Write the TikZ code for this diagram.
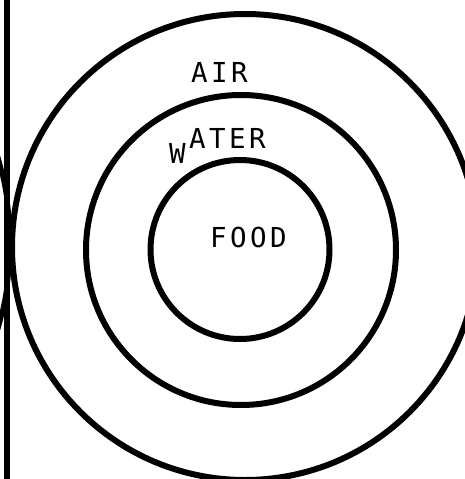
\documentclass[tikz,border=0pt]{standalone}
\usepackage{fontspec}
\newfontfamily\labelfont{DejaVu Sans Mono}
\newcommand\pitchbox[1]{\makebox[20pt]{#1}}
\begin{document}
\begin{tikzpicture}[x=1pt,y=-1pt,
  ring/.style={draw, line width=6pt, circle, inner sep=0pt},
  lbl/.style={font=\labelfont\fontsize{27.5}{30}\selectfont, anchor=base, inner sep=0pt}]
\useasboundingbox (0,0) rectangle (465,479);
\clip (0,0) rectangle (465,479);
\coordinate (top) at (6.5,0);
\coordinate (bottom) at (6.5,479);
\draw[line width=6pt] (top) -- (bottom);
\node[ring, minimum size=466pt] (air) at (245,247) {};
\node[ring, minimum size=310pt] (water) at (241,250) {};
\node[ring, minimum size=179pt] (food) at (240,249.5) {};
\node[draw, circle, line width=5pt, minimum size=618pt, inner sep=0pt] (neighbour) at (-299,243) {};
\node[lbl] (airlbl) at (219.5,82) {\pitchbox{A}\pitchbox{I}\pitchbox{R}};
\node[lbl] (waterlbl) at (217.5,148) {\pitchbox{\raisebox{-15pt}{W}}\pitchbox{A}\pitchbox{T}\pitchbox{E}\pitchbox{R}};
\node[lbl] (foodlbl) at (248.5,247) {\pitchbox{F}\pitchbox{O}\pitchbox{O}\pitchbox{D}};
\end{tikzpicture}
\end{document}
